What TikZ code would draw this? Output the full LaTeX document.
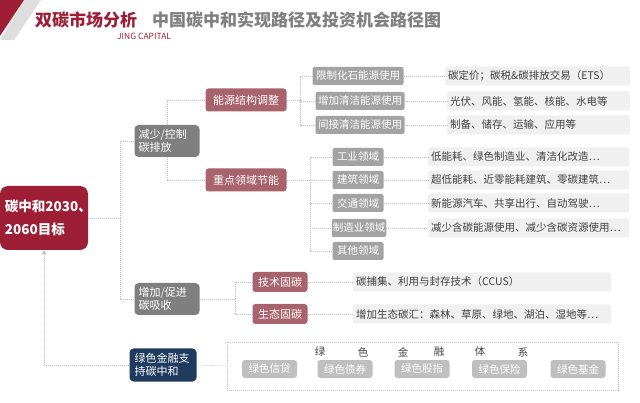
\documentclass[tikz,border=0pt]{standalone}
\usepackage{fontspec}
\setmainfont{Noto Sans CJK SC}
\usepackage{xcolor}
\usetikzlibrary{arrows.meta, positioning}
\definecolor{deepred}{HTML}{9E1F35}
\definecolor{rose}{HTML}{A8636C}
\definecolor{darkgrey}{HTML}{7F7F7F}
\definecolor{midgrey}{HTML}{A3A3A3}
\definecolor{palegrey}{HTML}{F0F0F0}
\definecolor{notetext}{HTML}{404040}
\definecolor{linegrey}{HTML}{BDBDBD}
\definecolor{navy}{HTML}{1F3B5E}
\definecolor{pillgrey}{HTML}{BFBFBF}
\definecolor{titlegrey}{HTML}{808080}

\begin{document}
\begin{tikzpicture}[
  x=1pt, y=-1pt,
  rootbox/.style={fill=deepred, rounded corners=8pt, text=white, font=\bfseries\fontsize{13.5}{23}\selectfont, minimum width=88pt, minimum height=64pt, text width=78pt, inner xsep=4pt, align=left},
  mainbox/.style={fill=darkgrey, rounded corners=4pt, text=white, font=\fontsize{11}{13}\selectfont, minimum width=65pt, minimum height=32pt, text width=57pt, inner xsep=4pt, align=left},
  rosebox/.style={fill=rose, rounded corners=3pt, text=white, font=\fontsize{11}{12}\selectfont, minimum width=81pt, minimum height=23pt},
  subbox/.style={fill=midgrey, rounded corners=2pt, text=white, font=\fontsize{10.5}{12}\selectfont, minimum height=18pt, inner xsep=1pt},
  notebox/.style={fill=palegrey, rounded corners=2pt, text=notetext, font=\fontsize{10.5}{12}\selectfont, minimum height=19pt, anchor=west, inner xsep=3pt, text width=#1, align=left},
  pill/.style={fill=pillgrey, rounded corners=3pt, text=white, font=\fontsize{10.5}{12}\selectfont, minimum width=55pt, minimum height=18pt},
  sysletter/.style={text=notetext, font=\fontsize{10.5}{12}\selectfont, inner sep=0pt},
  link/.style={draw=linegrey, line width=0.6pt, dash pattern=on 1pt off 1pt},
  arrow/.style={link, -{Triangle[width=4pt,length=4pt]}}
]
\useasboundingbox (0,0) rectangle (640,403);
\fill[white] (0,0) rectangle (640,403);

% Header
\fill[linegrey!50] (24,0) -- (41,0) -- (14,40) -- (0,40) -- cycle;
\fill[deepred] (0,0) -- (24,0) -- (0,36) -- cycle;
\node[anchor=base west, inner sep=0pt, text=deepred, font=\bfseries\fontsize{17}{17}\selectfont] (brand) at (35,27) {双碳市场分析};
\node[anchor=base west, inner sep=0pt, text=deepred, font=\fontsize{8.5}{9}\selectfont] (firm) at (117,40) {JING CAPITAL};
\node[anchor=base west, inner sep=0pt, text=titlegrey, font=\bfseries\fontsize{17}{17}\selectfont] (title) at (152,27) {中国碳中和实现路径及投资机会路径图};

% Nodes
\node[rootbox] (root) at (44,218) {碳中和2030、\\2060目标};
\node[mainbox] (reduce) at (167,141) {减少/控制\\碳排放};
\node[mainbox] (absorb) at (167,299) {增加/促进\\碳吸收};
\node[rosebox] (energy) at (246,100) {能源结构调整};
\node[rosebox] (focus) at (246,180) {重点领域节能};

\node[subbox, minimum width=91pt] (fossil) at (358,76) {限制化石能源使用};
\node[subbox, minimum width=89pt] (clean) at (360,101) {增加清洁能源使用};
\node[subbox, minimum width=89pt] (indirect) at (360,125) {间接清洁能源使用};
\node[notebox=179pt] (pricing) at (445,76) {碳定价；碳税\&碳排放交易（ETS）};
\node[notebox=177pt] (cleannote) at (447,101) {光伏、风能、氢能、核能、水电等};
\node[notebox=177pt] (indirectnote) at (447,125) {制备、储存、运输、应用等};

\node[subbox, minimum width=51pt] (industry) at (358,157) {工业领域};
\node[subbox, minimum width=51pt] (building) at (358,180) {建筑领域};
\node[subbox, minimum width=51pt] (transport) at (358,203) {交通领域};
\node[subbox, minimum width=54pt] (making) at (359,228) {制造业领域};
\node[subbox, minimum width=51pt] (other) at (358,251) {其他领域};
\node[notebox=195pt] (industrynote) at (428,157) {低能耗、绿色制造业、清洁化改造…};
\node[notebox=195pt] (buildingnote) at (428,180) {超低能耗、近零能耗建筑、零碳建筑…};
\node[notebox=195pt] (transportnote) at (428,203) {新能源汽车、共享出行、自动驾驶…};
\node[notebox=195pt] (makingnote) at (428,228) {减少含碳能源使用、减少含碳资源使用…};

\node[rosebox, minimum width=55pt, minimum height=20pt] (tech) at (280,282) {技术固碳};
\node[rosebox, minimum width=55pt, minimum height=20pt] (eco) at (280,314) {生态固碳};
\node[notebox=252pt] (technote) at (353,282) {碳捕集、利用与封存技术（CCUS）};
\node[notebox=252pt] (econote) at (353,314) {增加生态碳汇：森林、草原、绿地、湖泊、湿地等…};

\node[mainbox, fill=navy, minimum width=67pt, minimum height=33pt] (finance) at (163,365) {绿色金融支\\持碳中和};
\node[link, minimum width=391pt, minimum height=48pt] (system) at (422.5,366) {};
\foreach \ch/\px in {绿/320, 色/363, 金/403, 融/439, 体/480, 系/523}
  \node[sysletter] (sys-\px) at (\px,352) {\ch};
\node[pill] (loan) at (269.5,369) {绿色信贷};
\node[pill] (bond) at (345,369) {绿色债券};
\node[pill] (index) at (422,369) {绿色股指};
\node[pill] (insure) at (499.5,369) {绿色保险};
\node[pill] (fund) at (578,369) {绿色基金};

% Junctions
\coordinate (j1) at (120,218);
\coordinate (j2) at (300,100);
\coordinate (j3) at (310,180);
\coordinate (j4) at (235,299);
\coordinate (j5) at (44,365);

% Pointers
\draw[link] (root.east) -- (j1);
\draw[link] (j1) |- (reduce.west);
\draw[link] (j1) |- (absorb.west);
\draw[link] (reduce.north) |- (energy.west);
\draw[link] (reduce.south) |- (focus.west);
\draw[link] (energy.east) -- (j2);
\foreach \n in {fossil, clean, indirect}
  \draw[link] (j2) |- (\n.west);
\draw[link] (fossil) -- (pricing);
\draw[link] (clean) -- (cleannote);
\draw[link] (indirect) -- (indirectnote);
\draw[link] (focus.east) -- (j3);
\foreach \n in {industry, building, transport, making, other}
  \draw[link] (j3) |- (\n.west);
\draw[link] (industry) -- (industrynote);
\draw[link] (building) -- (buildingnote);
\draw[link] (transport) -- (transportnote);
\draw[link] (making) -- (makingnote);
\draw[link] (absorb.east) -- (j4);
\draw[link] (j4) |- (tech.west);
\draw[link] (j4) |- (eco.west);
\draw[link] (tech) -- (technote);
\draw[link] (eco) -- (econote);
\draw[link] (finance.west) -- (j5);
\draw[arrow] (j5) -- (root.south);
\draw[link] (finance.east) -- (system.west);
\end{tikzpicture}
\end{document}
